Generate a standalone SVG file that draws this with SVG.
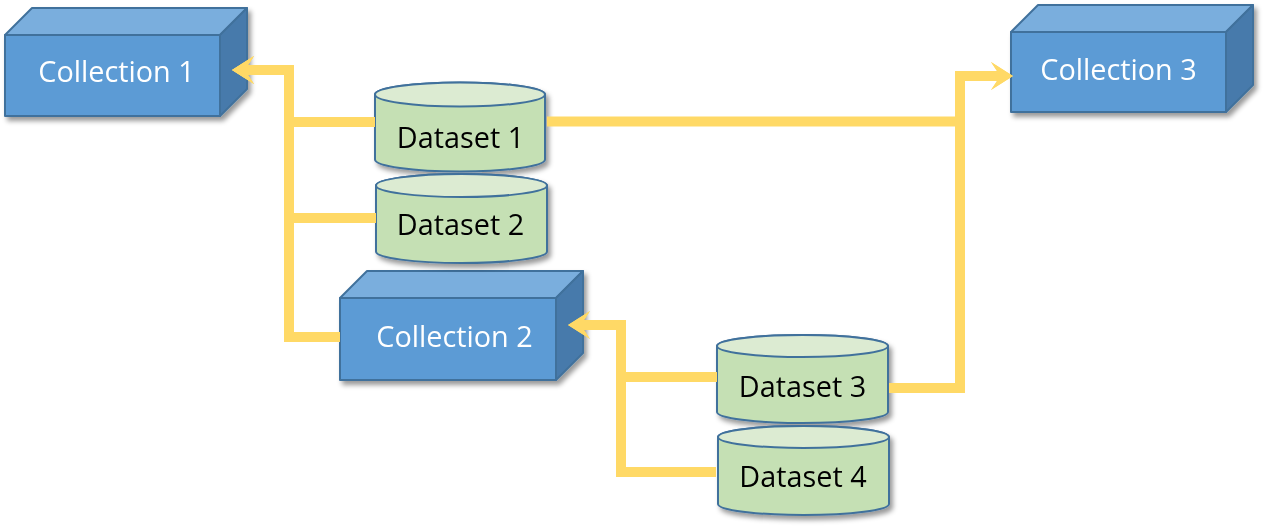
<svg xmlns="http://www.w3.org/2000/svg" width="1267" height="529" viewBox="0 0 1267 529">
<style>
.front{fill:#5b9bd5;stroke:#41719c;stroke-width:2;stroke-linejoin:round}
.top{fill:#7aaedd;stroke:#41719c;stroke-width:2;stroke-linejoin:round}
.side{fill:#477aab;stroke:#41719c;stroke-width:2;stroke-linejoin:round}
.body{fill:#c5e0b4;stroke:#41719c;stroke-width:2}
.cap{fill:#dcebd2;stroke:#41719c;stroke-width:2}
.ctext{font-family:"Open Sans","Noto Sans",sans-serif;font-size:28.8px;fill:#ffffff;text-anchor:middle}
.dtext{font-family:"Open Sans","Noto Sans",sans-serif;font-size:28.8px;fill:#000000;text-anchor:middle}
.conn{fill:none;stroke:#ffd966;stroke-width:10;stroke-linejoin:miter;stroke-linecap:butt}
</style>
<defs>
<filter id="sh" x="-10%" y="-10%" width="130%" height="140%">
<feDropShadow dx="3" dy="4" stdDeviation="2.5" flood-color="#000000" flood-opacity="0.4"/>
</filter>
<marker id="ah" markerUnits="userSpaceOnUse" orient="auto" refX="0" refY="0" markerWidth="30" markerHeight="30" overflow="visible">
<path d="M-1,-5 L6,-5 L0,-14 L22,0 L0,14 L6,5 L-1,5 Z" fill="#ffd966"/>
</marker>
</defs>
<rect width="1267" height="529" fill="#ffffff"/>

<g id="collection1" filter="url(#sh)">
<polygon class="top" points="5,35 32,8 247,8 220,35"/>
<polygon class="side" points="220,35 247,8 247,89 220,116"/>
<rect class="front" x="5" y="35" width="215" height="81"/>
<text class="ctext" x="116.5" y="82">Collection 1</text>
</g>

<g id="collection2" filter="url(#sh)">
<polygon class="top" points="340,298 367,271 583,271 556,298"/>
<polygon class="side" points="556,298 583,271 583,353 556,380"/>
<rect class="front" x="340" y="298" width="216" height="82"/>
<text class="ctext" x="454.5" y="347">Collection 2</text>
</g>

<g id="collection3" filter="url(#sh)">
<polygon class="top" points="1011,32 1038,5 1253,5 1226,32"/>
<polygon class="side" points="1226,32 1253,5 1253,85 1226,112"/>
<rect class="front" x="1011" y="32" width="215" height="80"/>
<text class="ctext" x="1118.5" y="80">Collection 3</text>
</g>

<g id="dataset1" filter="url(#sh)">
<path class="body" d="M375,94.5 V159.5 A85,12 0 0 0 545,159.5 V94.5 A85,12 0 0 0 375,94.5 Z"/>
<ellipse class="cap" cx="460" cy="94.5" rx="85" ry="12"/>
<text class="dtext" x="460.5" y="148">Dataset 1</text>
</g>

<g id="dataset2" filter="url(#sh)">
<path class="body" d="M376,185.5 V251.5 A85.5,11.5 0 0 0 547,251.5 V185.5 A85.5,11.5 0 0 0 376,185.5 Z"/>
<ellipse class="cap" cx="461.5" cy="185.5" rx="85.5" ry="11.5"/>
<text class="dtext" x="460.5" y="234.5">Dataset 2</text>
</g>

<g id="dataset3" filter="url(#sh)">
<path class="body" d="M717,346 V412 A85.5,11 0 0 0 888,412 V346 A85.5,11 0 0 0 717,346 Z"/>
<ellipse class="cap" cx="802.5" cy="346" rx="85.5" ry="11"/>
<text class="dtext" x="802.5" y="397">Dataset 3</text>
</g>

<g id="dataset4" filter="url(#sh)">
<path class="body" d="M718,437 V504 A85.5,11 0 0 0 889,504 V437 A85.5,11 0 0 0 718,437 Z"/>
<ellipse class="cap" cx="803.5" cy="437" rx="85.5" ry="11"/>
<text class="dtext" x="803" y="487">Dataset 4</text>
</g>

<g id="connectors">
<path class="conn" d="M375,122 H289 V70 H254" marker-end="url(#ah)"/>
<path class="conn" d="M376,218 H289 V70 H254" marker-end="url(#ah)"/>
<path class="conn" d="M340,337 H289 V70 H254" marker-end="url(#ah)"/>
<path class="conn" d="M547,121.5 H960 V76 H991" marker-end="url(#ah)"/>
<path class="conn" d="M889,388 H960 V76 H991" marker-end="url(#ah)"/>
<path class="conn" d="M717,377 H621 V325 H590" marker-end="url(#ah)"/>
<path class="conn" d="M716,472 H621 V325 H590" marker-end="url(#ah)"/>
</g>
</svg>
